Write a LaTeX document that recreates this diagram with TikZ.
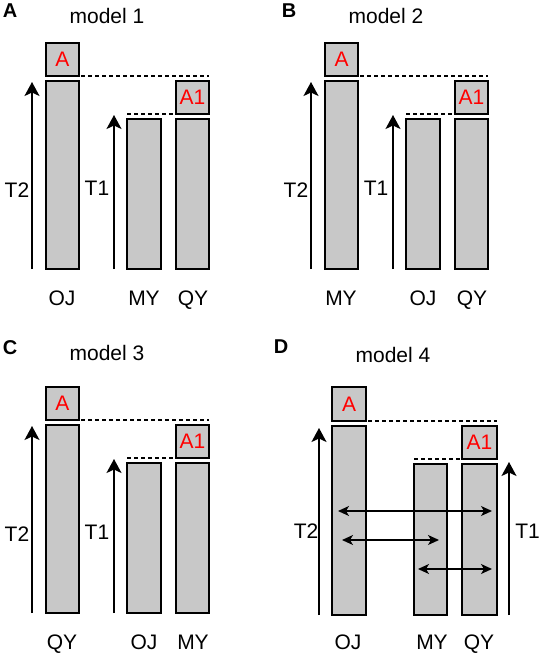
\documentclass[tikz,border=0pt]{standalone}
\usepackage{fontspec}
\setmainfont{Liberation Sans}
\usetikzlibrary{arrows.meta}
\definecolor{barfill}{RGB}{200,200,200}
\definecolor{lblred}{RGB}{255,0,0}
\tikzset{
  barbox/.style={draw=black, line width=1.8pt, fill=barfill, inner sep=0pt, outer sep=0pt,
    text=lblred, font=\fontsize{21}{24}\selectfont, anchor=north west},
  lbl/.style={font=\fontsize{21}{24}\selectfont, inner sep=0pt, anchor=base},
  panellbl/.style={font=\fontsize{20}{24}\selectfont\bfseries, inner sep=0pt, anchor=base},
  dashline/.style={line width=1.3pt, dash pattern=on 4pt off 3pt},
  tarrow/.style={line width=1.8pt, -{Stealth[length=14pt,width=15pt,inset=3.5pt]}},
  darrow/.style={line width=1.4pt, {Stealth[length=11pt,width=10pt,inset=3pt]}-{Stealth[length=11pt,width=10pt,inset=3pt]}}
}
\newcommand\bx[6]{%
  \pgfmathsetmacro\bw{#4-#2}\pgfmathsetmacro\bh{#5-#3}%
  \node[barbox, minimum width=\bw pt, minimum height=\bh pt] (#1) at (#2,#3) {#6};}
% panel of type A/B/C: #1 prefix, #2 dx, #3 dy (graphics), #4 letter, #5 title, #6 left, #7 mid, #8 right, #9 text dy
\newcommand\pnl[9]{%
  \begin{scope}[shift={(#2,#3)}]
    \bx{#1abox}{46}{43}{79}{76}{A}
    \bx{#1bar1}{46}{81}{79}{269}{}
    \bx{#1aone}{176}{81}{209}{114}{A1}
    \bx{#1bar2}{127}{119}{161}{269}{}
    \bx{#1bar3}{176}{119}{209}{269}{}
    \draw[dashline] ([xshift=2pt]#1abox.south east) -- (#1abox.south east -| #1aone.east);
    \draw[dashline] (#1bar2.west |- #1aone.south) -- (#1aone.south west);
    \coordinate (#1t2s) at (32,269); \coordinate (#1t2e) at (32,82);
    \coordinate (#1t1s) at (114,269); \coordinate (#1t1e) at (114,115);
    \draw[tarrow] (#1t2s) -- (#1t2e);
    \draw[tarrow] (#1t1s) -- (#1t1e);
    \node[lbl] (#1tt2) at (17,197) {T2};
    \node[lbl] (#1tt1) at (97,195) {T1};
    \node[lbl] (#1l1) at (62,305) {#6};
    \node[lbl] (#1l2) at (144,305) {#7};
    \node[lbl] (#1l3) at (193,305) {#8};
  \end{scope}
  \begin{scope}[shift={(#2,#9)}]
    \node[panellbl] (#1let) at (10,17) {#4};
    \node[lbl] (#1title) at (107,23) {#5};
  \end{scope}}
\begin{document}
\begin{tikzpicture}[x=1pt,y=-1pt]
\path[use as bounding box, fill=white] (0,0) rectangle (540,656);
\pnl{a}{0}{0}{A}{model 1}{OJ}{MY}{QY}{0}
\pnl{b}{279}{0}{B}{model 2}{MY}{OJ}{QY}{0}
\pnl{c}{0}{344}{C}{model 3}{QY}{OJ}{MY}{337}
% panel D
\node[panellbl] (dlet) at (281,353) {D};
\node[lbl] (dtitle) at (393,362) {model 4};
\bx{dabox}{332}{387}{366}{421}{A}
\bx{dbar1}{332}{426}{366}{615}{}
\bx{daone}{462}{426}{497}{459}{A1}
\bx{dbar2}{414}{464}{447}{615}{}
\bx{dbar3}{462}{464}{497}{615}{}
\draw[dashline] ([xshift=2pt]dabox.south east) -- (dabox.south east -| daone.east);
\draw[dashline] (dbar2.west |- daone.south) -- (daone.south west);
\coordinate (dt2s) at (319,615); \coordinate (dt2e) at (319,428);
\coordinate (dt1s) at (509,615); \coordinate (dt1e) at (509,462);
\draw[tarrow] (dt2s) -- (dt2e);
\draw[tarrow] (dt1s) -- (dt1e);
\node[lbl] (dtt2) at (306,538) {T2};
\node[lbl] (dtt1) at (527.5,538) {T1};
\coordinate (h1a) at (338,511); \coordinate (h1b) at (492,511);
\coordinate (h2a) at (342,540); \coordinate (h2b) at (439,540);
\coordinate (h3a) at (418,569); \coordinate (h3b) at (492,569);
\draw[darrow] (h1a) -- (h1b);
\draw[darrow] (h2a) -- (h2b);
\draw[darrow] (h3a) -- (h3b);
\node[lbl] (dl1) at (348,649) {OJ};
\node[lbl] (dl2) at (432,649) {MY};
\node[lbl] (dl3) at (479,649) {QY};
\end{tikzpicture}
\end{document}
